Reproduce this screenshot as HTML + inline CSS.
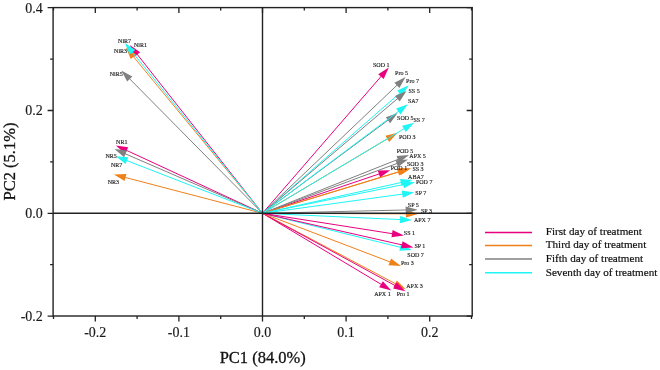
<!DOCTYPE html>
<html><head><meta charset="utf-8"><style>
html,body{margin:0;padding:0;background:#fff;}
svg{display:block;will-change:transform;}
text{font-family:"Liberation Serif",serif;}
</style></head><body>
<svg width="660" height="370" viewBox="0 0 660 370">
<rect width="660" height="370" fill="#fff"/>
<g stroke-width="1.0">
<line x1="262.5" y1="213.3" x2="136.09" y2="52.95" stroke="#E8007F"/>
<path d="M129.9 45.1L140.16 52.29L134.5 56.75Z" fill="#E8007F"/>
<line x1="262.5" y1="213.3" x2="132.26" y2="55.22" stroke="#F0801A"/>
<path d="M125.9 47.5L136.31 54.47L130.75 59.05Z" fill="#F0801A"/>
<line x1="262.5" y1="213.3" x2="128.33" y2="77.51" stroke="#808080"/>
<path d="M121.3 70.4L132.3 76.41L127.17 81.47Z" fill="#808080"/>
<line x1="262.5" y1="213.3" x2="131.18" y2="50.78" stroke="#1EF5F5"/>
<path d="M124.9 43L135.24 50.07L129.64 54.6Z" fill="#1EF5F5"/>
<line x1="262.5" y1="213.3" x2="124.88" y2="149.6" stroke="#E8007F"/>
<path d="M115.8 145.4L128.2 147.17L125.18 153.71Z" fill="#E8007F"/>
<line x1="262.5" y1="213.3" x2="123.58" y2="177.03" stroke="#F0801A"/>
<path d="M113.9 174.5L126.42 174.05L124.6 181.01Z" fill="#F0801A"/>
<line x1="262.5" y1="213.3" x2="123.67" y2="153.08" stroke="#808080"/>
<path d="M114.5 149.1L126.94 150.57L124.08 157.18Z" fill="#808080"/>
<line x1="262.5" y1="213.3" x2="125.12" y2="159.92" stroke="#1EF5F5"/>
<path d="M115.8 156.3L128.29 157.29L125.68 164Z" fill="#1EF5F5"/>
<line x1="262.5" y1="213.3" x2="382.25" y2="75.06" stroke="#E8007F"/>
<path d="M388.8 67.5L383.66 78.93L378.22 74.21Z" fill="#E8007F"/>
<line x1="262.5" y1="213.3" x2="399.93" y2="171.51" stroke="#F0801A"/>
<path d="M409.5 168.6L399.07 175.54L396.97 168.65Z" fill="#F0801A"/>
<line x1="262.5" y1="213.3" x2="389.57" y2="119.06" stroke="#808080"/>
<path d="M397.6 113.1L390.11 123.14L385.82 117.36Z" fill="#808080"/>
<line x1="262.5" y1="213.3" x2="402.09" y2="247.71" stroke="#1EF5F5"/>
<path d="M411.8 250.1L399.29 250.72L401.01 243.73Z" fill="#1EF5F5"/>
<line x1="262.5" y1="213.3" x2="380.82" y2="173.4" stroke="#E8007F"/>
<path d="M390.3 170.2L380.08 177.45L377.78 170.62Z" fill="#E8007F"/>
<line x1="262.5" y1="213.3" x2="389.01" y2="137.92" stroke="#F0801A"/>
<path d="M397.6 132.8L389.13 142.04L385.45 135.85Z" fill="#F0801A"/>
<line x1="262.5" y1="213.3" x2="399.71" y2="158.7" stroke="#808080"/>
<path d="M409 155L399.18 162.78L396.52 156.09Z" fill="#808080"/>
<line x1="262.5" y1="213.3" x2="405.1" y2="184.2" stroke="#1EF5F5"/>
<path d="M414.9 182.2L403.86 188.13L402.42 181.07Z" fill="#1EF5F5"/>
<line x1="262.5" y1="213.3" x2="382.72" y2="285.26" stroke="#E8007F"/>
<path d="M391.3 290.4L379.15 287.33L382.85 281.15Z" fill="#E8007F"/>
<line x1="262.5" y1="213.3" x2="396.96" y2="284.52" stroke="#F0801A"/>
<path d="M405.8 289.2L393.51 286.76L396.88 280.4Z" fill="#F0801A"/>
<line x1="262.5" y1="213.3" x2="398.62" y2="162.87" stroke="#808080"/>
<path d="M408 159.4L398 166.94L395.5 160.19Z" fill="#808080"/>
<line x1="262.5" y1="213.3" x2="402.01" y2="219.65" stroke="#1EF5F5"/>
<path d="M412 220.1L399.85 223.15L400.18 215.96Z" fill="#1EF5F5"/>
<line x1="262.5" y1="213.3" x2="396.62" y2="286.41" stroke="#E8007F"/>
<path d="M405.4 291.2L393.14 288.62L396.59 282.3Z" fill="#E8007F"/>
<line x1="262.5" y1="213.3" x2="391.66" y2="262.54" stroke="#F0801A"/>
<path d="M401 266.1L388.5 265.19L391.07 258.46Z" fill="#F0801A"/>
<line x1="262.5" y1="213.3" x2="398.36" y2="83.9" stroke="#808080"/>
<path d="M405.6 77L399.39 87.88L394.43 82.67Z" fill="#808080"/>
<line x1="262.5" y1="213.3" x2="401.18" y2="91.89" stroke="#1EF5F5"/>
<path d="M408.7 85.3L402.04 95.91L397.3 90.5Z" fill="#1EF5F5"/>
<line x1="262.5" y1="213.3" x2="394.02" y2="233.95" stroke="#E8007F"/>
<path d="M403.9 235.5L391.49 237.2L392.6 230.08Z" fill="#E8007F"/>
<line x1="262.5" y1="213.3" x2="401.53" y2="171.1" stroke="#F0801A"/>
<path d="M411.1 168.2L400.66 175.13L398.57 168.24Z" fill="#F0801A"/>
<line x1="262.5" y1="213.3" x2="398.88" y2="97.47" stroke="#808080"/>
<path d="M406.5 91L399.68 101.51L395.02 96.02Z" fill="#808080"/>
<line x1="262.5" y1="213.3" x2="405.61" y2="127.83" stroke="#1EF5F5"/>
<path d="M414.2 122.7L405.74 131.94L402.05 125.76Z" fill="#1EF5F5"/>
<line x1="262.5" y1="213.3" x2="403.75" y2="245.29" stroke="#E8007F"/>
<path d="M413.5 247.5L401 248.36L402.59 241.34Z" fill="#E8007F"/>
<line x1="262.5" y1="213.3" x2="408" y2="213.86" stroke="#F0801A"/>
<path d="M418 213.9L405.99 217.45L406.01 210.25Z" fill="#F0801A"/>
<line x1="262.5" y1="213.3" x2="407.7" y2="209.93" stroke="#808080"/>
<path d="M417.7 209.7L405.79 213.58L405.62 206.38Z" fill="#808080"/>
<line x1="262.5" y1="213.3" x2="404.29" y2="193.86" stroke="#1EF5F5"/>
<path d="M414.2 192.5L402.8 197.7L401.82 190.56Z" fill="#1EF5F5"/>
<line x1="262.5" y1="213.3" x2="399.9" y2="110.3" stroke="#1EF5F5"/>
<path d="M407.9 104.3L400.46 114.38L396.14 108.62Z" fill="#1EF5F5"/>
<line x1="262.5" y1="213.3" x2="402.74" y2="182.17" stroke="#1EF5F5"/>
<path d="M412.5 180L401.57 186.12L400 179.09Z" fill="#1EF5F5"/>
</g>
<rect x="53.1" y="7.6" width="419.1" height="308.4" fill="none" stroke="#222" stroke-width="1.4"/>
<line x1="262.5" y1="7.6" x2="262.5" y2="316" stroke="#222" stroke-width="1.4"/>
<line x1="53.1" y1="213.3" x2="472.2" y2="213.3" stroke="#222" stroke-width="1.4"/>
<path d="M53.5 316v3M53.5 7.6v3M95.3 316v5.5M95.3 7.6v5.5M137.1 316v3M137.1 7.6v3M178.9 316v5.5M178.9 7.6v5.5M220.7 316v3M220.7 7.6v3M262.5 316v5.5M262.5 7.6v5.5M304.3 316v3M304.3 7.6v3M346.1 316v5.5M346.1 7.6v5.5M387.9 316v3M387.9 7.6v3M429.7 316v5.5M429.7 7.6v5.5M471.5 316v3M471.5 7.6v3M53.1 316.1h-5.5M472.2 316.1h-5.5M53.1 264.7h-3M472.2 264.7h-3M53.1 213.3h-5.5M472.2 213.3h-5.5M53.1 161.9h-3M472.2 161.9h-3M53.1 110.5h-5.5M472.2 110.5h-5.5M53.1 59.1h-3M472.2 59.1h-3M53.1 7.7h-5.5M472.2 7.7h-5.5" stroke="#222" stroke-width="1.3" fill="none"/>
<g font-size="6" fill="#222" stroke="#222" stroke-width="0.15">
<text x="118.1" y="43.1">NiR7</text>
<text x="134" y="47.2">NiR1</text>
<text x="114.1" y="53">NiR3</text>
<text x="109.7" y="76.3">NiR5</text>
<text x="116.1" y="144.3">NR1</text>
<text x="105.5" y="157.6">NR5</text>
<text x="110.9" y="167.3">NR7</text>
<text x="107.7" y="183.6">NR3</text>
<text x="373" y="67">SOD 1</text>
<text x="395.1" y="74.6">Pro 5</text>
<text x="406.1" y="82.7">Pro 7</text>
<text x="408.5" y="92.8">SS 5</text>
<text x="407.9" y="103.2">SA7</text>
<text x="397.1" y="119.8">SOD 5</text>
<text x="413.5" y="122">SS 7</text>
<text x="399" y="138.9">POD 3</text>
<text x="396.7" y="152.9">POD 5</text>
<text x="409.3" y="157.7">APX 5</text>
<text x="406.9" y="165.8">SOD 3</text>
<text x="390.7" y="170.2">POD 1</text>
<text x="412.4" y="171.2">SS 3</text>
<text x="408.1" y="178.8">ABA7</text>
<text x="415.9" y="184.1">POD 7</text>
<text x="415.3" y="194.7">SP 7</text>
<text x="407.8" y="207.1">SP 5</text>
<text x="421" y="212.8">SP 3</text>
<text x="413.9" y="221.9">APX 7</text>
<text x="403.8" y="235.4">SS 1</text>
<text x="414.4" y="247.5">SP 1</text>
<text x="407.3" y="257">SOD 7</text>
<text x="401" y="265.2">Pro 3</text>
<text x="406.25" y="287.9">APX 3</text>
<text x="374.2" y="296.25">APX 1</text>
<text x="396.7" y="296.25">Pro 1</text>
</g>
<g font-size="14" fill="#1a1a1a" stroke="#1a1a1a" stroke-width="0.15">
<text x="95.3" y="337" text-anchor="middle">-0.2</text>
<text x="178.9" y="337" text-anchor="middle">-0.1</text>
<text x="262.5" y="337" text-anchor="middle">0.0</text>
<text x="346.1" y="337" text-anchor="middle">0.1</text>
<text x="429.7" y="337" text-anchor="middle">0.2</text>
<text x="42.8" y="12.5" text-anchor="end">0.4</text>
<text x="42.8" y="115.3" text-anchor="end">0.2</text>
<text x="42.8" y="218.1" text-anchor="end">0.0</text>
<text x="42.8" y="320.9" text-anchor="end">-0.2</text>
</g>
<text x="262.75" y="363" font-size="16.5" text-anchor="middle" fill="#111" stroke="#111" stroke-width="0.3">PC1 (84.0%)</text>
<text transform="translate(14.8 161.5) rotate(-90)" font-size="16.5" text-anchor="middle" fill="#111" stroke="#111" stroke-width="0.3">PC2 (5.1%)</text>
<g font-size="11.15" fill="#111" stroke="#111" stroke-width="0.2">
<line x1="485" y1="232.4" x2="532" y2="232.4" stroke="#E8007F" stroke-width="1.5"/>
<text x="545.7" y="235.1">First day of treatment</text>
<line x1="485" y1="245.5" x2="532" y2="245.5" stroke="#F0801A" stroke-width="1.5"/>
<text x="545.7" y="248.2">Third day of treatment</text>
<line x1="485" y1="259.1" x2="532" y2="259.1" stroke="#808080" stroke-width="1.5"/>
<text x="545.7" y="261.8">Fifth day of treatment</text>
<line x1="485" y1="272.8" x2="532" y2="272.8" stroke="#1EF5F5" stroke-width="1.5"/>
<text x="545.7" y="275.5">Seventh day of treatment</text>
</g>
</svg>
</body></html>
